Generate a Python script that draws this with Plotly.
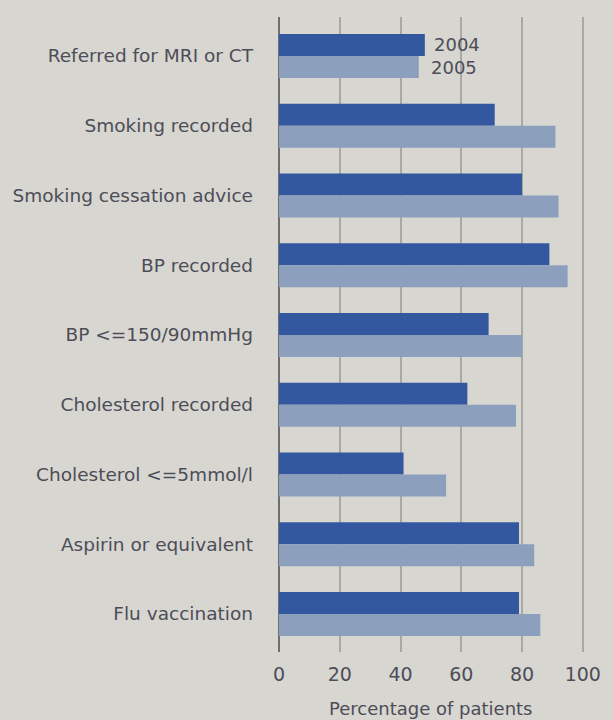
import plotly.graph_objects as go

categories = ["Referred for MRI or CT", "Smoking recorded", "Smoking cessation advice",
              "BP recorded", "BP <=150/90mmHg", "Cholesterol recorded",
              "Cholesterol <=5mmol/l", "Aspirin or equivalent", "Flu vaccination"]
values_2004 = [48, 71, 80, 89, 69, 62, 41, 79, 79]
values_2005 = [46, 91, 92, 95, 80, 78, 55, 84, 86]
series_names = ["2004", "2005"]
x_ticks = [0, 20, 40, 60, 80, 100]

bg = "#d7d6d0"
txt = "#4d4d58"
font_family = "'DejaVu Sans', sans-serif"

fig = go.Figure()
fig.add_trace(go.Bar(y=categories, x=values_2004, orientation="h", name=series_names[0],
                     marker=dict(color="#34589f", line=dict(width=0))))
fig.add_trace(go.Bar(y=categories, x=values_2005, orientation="h", name=series_names[1],
                     marker=dict(color="#8c9fbd", line=dict(width=0))))

fig.add_annotation(x=values_2004[0], y=categories[0], text=series_names[0], showarrow=False,
                   xanchor="left", xshift=7, yshift=11, font=dict(size=18, color=txt, family=font_family))
fig.add_annotation(x=values_2005[0], y=categories[0], text=series_names[1], showarrow=False,
                   xanchor="left", xshift=10, yshift=-12, font=dict(size=18, color=txt, family=font_family))
fig.add_annotation(x=50, y=0, yref="paper", text="Percentage of patients", showarrow=False,
                   yanchor="middle", yshift=-56, font=dict(size=18, color=txt, family=font_family))

fig.update_layout(
    width=613, height=720,
    margin=dict(l=276, r=12, t=17, b=68),
    paper_bgcolor=bg, plot_bgcolor=bg,
    barmode="group", bargap=0.37, bargroupgap=0.0,
    showlegend=False,
    font=dict(family=font_family, color=txt, size=18),
    xaxis=dict(range=[0, 105], tickvals=x_ticks, showgrid=True, gridcolor="#a9a8a2",
               gridwidth=1.5, zeroline=True, zerolinecolor="#6f6f72", zerolinewidth=2,
               showline=False, ticks="", tickfont=dict(size=19, color=txt),
               ticklabelstandoff=9),
    yaxis=dict(type="category", range=[8.545, -0.559], showgrid=False, zeroline=False,
               showline=False, ticks="", tickfont=dict(size=18.5, color=txt),
               ticklabelstandoff=25),
)

fig.write_html("out.html", config={"displayModeBar": False},
               post_script="document.body.style.margin='0';document.body.style.background='%s';" % bg)
